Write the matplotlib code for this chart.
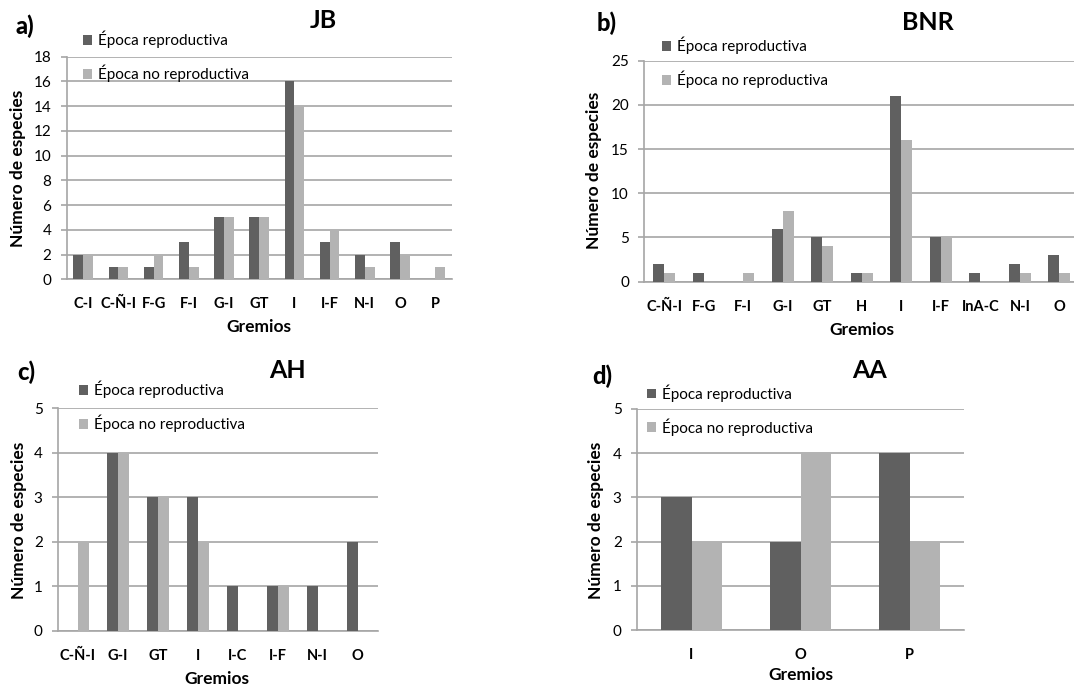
import matplotlib
matplotlib.use('Agg')
import matplotlib.pyplot as plt
import numpy as np

## Gremios troficos por sitio, epoca reproductiva vs no reproductiva

plt.rcParams['font.family'] = ['Lato', 'DejaVu Sans']

W, H = 1074, 686

# a) JB
jb_cats = ['C-I', 'C-Ñ-I', 'F-G', 'F-I', 'G-I', 'GT', 'I', 'I-F', 'N-I', 'O', 'P']
jb_rep = [2, 1, 1, 3, 5, 5, 16, 3, 2, 3, 0]
jb_norep = [2, 1, 2, 1, 5, 5, 14, 4, 1, 2, 1]

# b) BNR
bnr_cats = ['C-Ñ-I', 'F-G', 'F-I', 'G-I', 'GT', 'H', 'I', 'I-F', 'InA-C', 'N-I', 'O']
bnr_rep = [2, 1, 0, 6, 5, 1, 21, 5, 1, 2, 3]
bnr_norep = [1, 0, 1, 8, 4, 1, 16, 5, 0, 1, 1]

# c) AH
ah_cats = ['C-Ñ-I', 'G-I', 'GT', 'I', 'I-C', 'I-F', 'N-I', 'O']
ah_rep = [0, 4, 3, 3, 1, 1, 1, 2]
ah_norep = [2, 4, 3, 2, 0, 1, 0, 0]

# d) AA
aa_cats = ['I', 'O', 'P']
aa_rep = [3, 2, 4]
aa_norep = [2, 4, 2]

dark = '#606060'
light = '#b3b3b3'
grid_col = '#a6a6a6'


def fx(x):
    return x / W


def fy(y):
    return 1 - y / H


fig = plt.figure(figsize=(W / 100, H / 100), dpi=100)


def panel(box, cats, rep, norep, ymax, ystep, xlim, letter, title, letter_xy,
          title_xy, leg_xy, xlab_xy, ylab_xy):
    left, right, top, bottom = box
    ax = fig.add_axes([fx(left), fy(bottom), (right - left) / W, (bottom - top) / H])
    x = np.arange(len(cats))
    bw = 0.28
    ax.bar(x - bw / 2, rep, bw, color=dark, label='Época reproductiva', zorder=3)
    ax.bar(x + bw / 2, norep, bw, color=light, label='Época no reproductiva', zorder=3)
    ax.set_xlim(*xlim)
    ax.set_ylim(0, ymax)
    ax.set_yticks(np.arange(0, ymax + 0.1, ystep))
    ax.yaxis.grid(True, color=grid_col, linewidth=1.2, zorder=0)
    ax.set_xticks(x)
    ax.set_xticklabels(cats, fontsize=10.5, fontweight='bold')
    ax.tick_params(axis='x', length=0, pad=13)
    ax.tick_params(axis='y', length=4, color=grid_col, width=1.2, labelsize=11, pad=7)
    for s in ['top', 'right']:
        ax.spines[s].set_visible(False)
    ax.spines['left'].set_color(grid_col)
    ax.spines['bottom'].set_color(grid_col)
    ax.spines['left'].set_linewidth(1.2)
    ax.spines['bottom'].set_linewidth(1.2)
    ax.set_facecolor('none')

    fig.text(fx(letter_xy[0]), fy(letter_xy[1]), letter, fontsize=17,
             fontweight='black', ha='center', va='center')
    fig.text(fx(title_xy[0]), fy(title_xy[1]), title, fontsize=18,
             fontweight='bold', ha='center', va='center')
    fig.text(fx(xlab_xy[0]), fy(xlab_xy[1]), 'Gremios', fontsize=12.5,
             fontweight='bold', ha='center', va='center')
    fig.text(fx(ylab_xy[0]), fy(ylab_xy[1]), 'Número de especies', fontsize=12.5,
             fontweight='bold', ha='center', va='center', rotation=90)
    ax.legend(loc='upper left', bbox_to_anchor=(fx(leg_xy[0]), fy(leg_xy[1])),
              bbox_transform=fig.transFigure, frameon=False, fontsize=11,
              handlelength=0.6, handleheight=0.6, handletextpad=0.4,
              labelspacing=1.05, borderpad=0, borderaxespad=0)
    return ax


panel((66.7, 451.7, 56.7, 279.3), jb_cats, jb_rep, jb_norep, 18, 2, (-0.47, 10.47),
      'a)', 'JB', (25, 26), (323, 20), (82.5, 31), (259, 327), (18.5, 168))
panel((644.3, 1074, 60.7, 281.7), bnr_cats, bnr_rep, bnr_norep, 25, 5, (-0.5, 10.37),
      'b)', 'BNR', (607, 23), (928, 22), (661.5, 37), (862, 330), (594.5, 170))
panel((58, 377.7, 408.3, 631), ah_cats, ah_rep, ah_norep, 5, 1, (-0.5, 7.5),
      'c)', 'AH', (26.7, 372.5), (287.5, 370), (79, 381), (217, 679), (19, 520))
panel((637, 964, 409, 630), aa_cats, aa_rep, aa_norep, 5, 1, (-0.5, 2.5),
      'd)', 'AA', (602, 376), (870, 370), (647, 384.5), (800.5, 675), (596, 520))

fig.savefig('out.png', dpi=100)
